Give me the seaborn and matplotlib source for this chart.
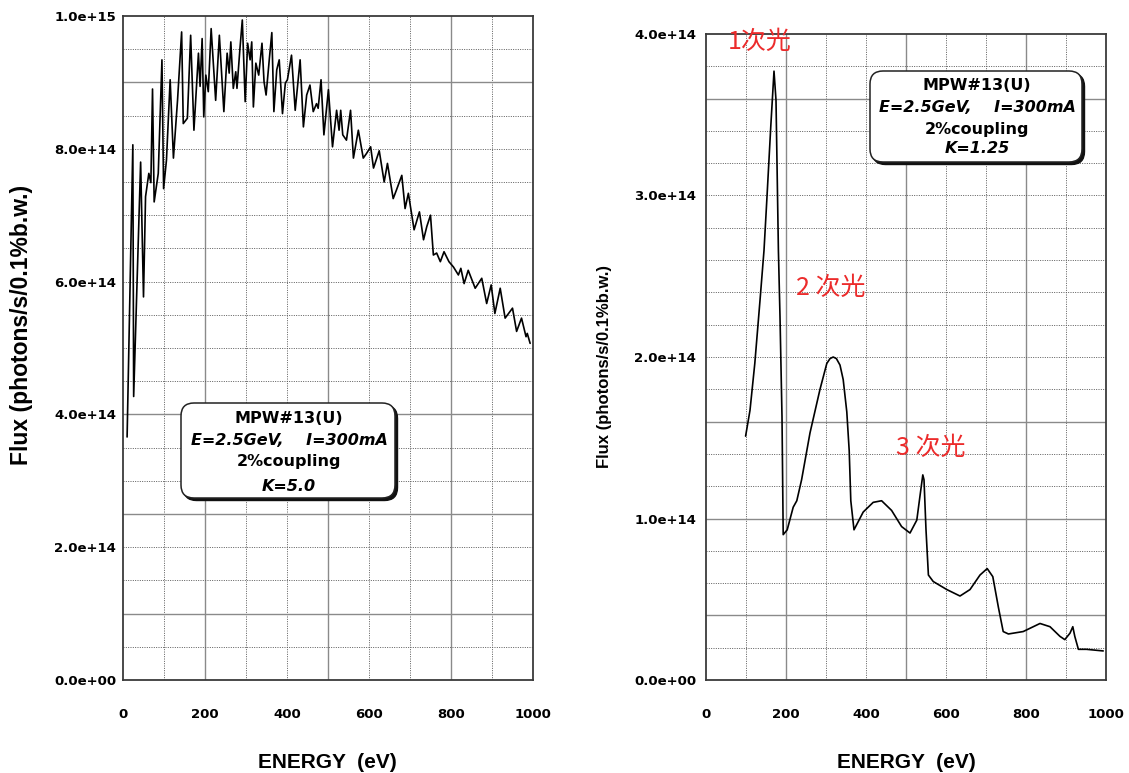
import numpy as np
import pandas as pd
import seaborn as sns
import matplotlib
matplotlib.use("Agg")
import matplotlib.pyplot as plt
from matplotlib import font_manager as fm
from matplotlib.patches import FancyBboxPatch
from matplotlib.transforms import IdentityTransform

# ---------------- data (flux in units of 1e14 photons/s/0.1%b.w.) ----------------
left_energy = [10, 24, 26, 43, 50, 55, 63, 68, 72, 76, 86, 95, 99, 106, 115, 123, 133, 143,
               147, 157, 165, 173, 184, 188, 193, 197, 202, 208, 215, 226, 235, 246, 254, 259,
               263, 269, 275, 278, 285, 291, 298, 304, 310, 314, 318, 324, 331, 339, 344, 349,
               357, 363, 368, 375, 381, 389, 396, 401, 411, 420, 432, 440, 448, 456, 464, 472,
               476, 483, 490, 501, 511, 521, 527, 531, 536, 545, 555, 562, 574, 586, 594, 604,
               611, 625, 637, 645, 659, 667, 680, 688, 696, 710, 723, 733, 741, 750, 757, 765,
               774, 783, 795, 806, 818, 824, 832, 842, 859, 875, 887, 898, 907, 920, 932, 950,
               960, 972, 983, 986, 993]
left_flux = [3.66, 8.06, 4.27, 7.80, 5.77, 7.28, 7.63, 7.49, 8.90, 7.20, 7.63, 9.34, 7.40, 7.83,
             9.04, 7.86, 8.73, 9.76, 8.38, 8.46, 9.71, 8.28, 9.44, 8.94, 9.66, 8.48, 9.11, 8.86,
             9.81, 8.73, 9.71, 8.56, 9.44, 9.14, 9.61, 8.91, 9.16, 8.91, 9.49, 9.94, 8.71, 9.59,
             9.34, 9.61, 8.63, 9.29, 9.11, 9.59, 9.01, 8.81, 9.36, 9.75, 8.56, 9.19, 9.34, 8.53,
             8.99, 9.04, 9.41, 8.58, 9.34, 8.33, 8.81, 8.96, 8.56, 8.68, 8.61, 9.04, 8.21, 8.89,
             8.03, 8.58, 8.28, 8.58, 8.21, 8.13, 8.58, 7.86, 8.28, 7.86, 7.93, 8.03, 7.71, 7.97,
             7.50, 7.78, 7.25, 7.38, 7.60, 7.10, 7.33, 6.78, 7.05, 6.63, 6.83, 7.00, 6.40, 6.43,
             6.30, 6.45, 6.30, 6.22, 6.10, 6.20, 5.97, 6.17, 5.90, 6.05, 5.67, 5.95, 5.52, 5.90,
             5.45, 5.60, 5.25, 5.45, 5.17, 5.22, 5.07]

right_energy = [99, 110, 122, 135, 145, 152, 162, 170, 175, 181, 185, 190, 193, 203, 218, 227,
                239, 260, 285, 302, 310, 318, 326, 335, 343, 352, 358, 362, 370, 393, 418, 439,
                464, 489, 510, 527, 535, 542, 545, 550, 556, 568, 602, 635, 660, 685, 703, 717,
                731, 743, 756, 793, 835, 860, 885, 897, 910, 917, 922, 931, 951, 993]
right_flux = [1.51, 1.67, 1.96, 2.35, 2.66, 2.97, 3.43, 3.77, 3.59, 2.66, 2.25, 1.63, 0.90, 0.93,
              1.07, 1.11, 1.24, 1.53, 1.80, 1.96, 1.99, 2.00, 1.99, 1.95, 1.86, 1.66, 1.42, 1.11,
              0.93, 1.04, 1.10, 1.11, 1.05, 0.95, 0.91, 0.99, 1.14, 1.27, 1.24, 0.93, 0.65, 0.61,
              0.56, 0.52, 0.56, 0.65, 0.69, 0.64, 0.45, 0.30, 0.285, 0.30, 0.35, 0.33, 0.27, 0.25,
              0.29, 0.33, 0.27, 0.19, 0.19, 0.18]

x_ticks = [0, 200, 400, 600, 800, 1000]
left_yticks = [0, 2e14, 4e14, 6e14, 8e14, 1e15]
right_yticks = [0, 1e14, 2e14, 3e14, 4e14]

box_lines_left = ["MPW#13(U)", "E=2.5GeV,    I=300mA", "2%coupling", "K=5.0"]
box_lines_right = ["MPW#13(U)", "E=2.5GeV,    I=300mA", "2%coupling", "K=1.25"]
order_labels = ["1次光", "2 次光", "3 次光"]
x_label = "ENERGY  (eV)"
y_label = "Flux (photons/s/0.1%b.w.)"

# ---------------- style ----------------
sns.set_style("white")
plt.rcParams["font.family"] = ["DejaVu Sans"]
plt.rcParams["text.color"] = "black"
plt.rcParams["xtick.color"] = "black"
plt.rcParams["ytick.color"] = "black"
plt.rcParams["axes.labelcolor"] = "black"
avail = {f.name for f in fm.fontManager.ttflist}
narrow = "Liberation Sans Narrow" if "Liberation Sans Narrow" in avail else "Liberation Sans"

W, H = 1129, 773
fig = plt.figure(figsize=(W / 100, H / 100), dpi=100)
fig.patch.set_facecolor("white")

ax_l = fig.add_axes([123 / W, 1 - 680 / H, 410 / W, 664 / H])
ax_r = fig.add_axes([706 / W, 1 - 680 / H, 400 / W, 646 / H])

df_l = pd.DataFrame({"energy": left_energy, "flux": np.array(left_flux) * 1e14})
df_r = pd.DataFrame({"energy": right_energy, "flux": np.array(right_flux) * 1e14})


def paper_grid(ax, ystep):
    dotted = dict(color="#5a5a5a", lw=0.7, ls=(0, (1.0, 1.4)), zorder=0)
    solid = dict(color="#8a8a8a", lw=1.0, zorder=0)
    for i in range(1, 10):
        ax.axvline(i * 100, **(solid if i in (2, 5, 8) else dotted))
    for i in range(1, 20):
        ax.axhline(i * ystep, **(solid if i in (2, 5, 8, 18) else dotted))


for ax, df, yt, ymax, ystep, ypad in [(ax_l, df_l, left_yticks, 1e15, 5e13, 5),
                                       (ax_r, df_r, right_yticks, 4e14, 2e13, 7)]:
    paper_grid(ax, ystep)
    sns.lineplot(data=df, x="energy", y="flux", ax=ax, color="black", lw=1.2,
                 sort=False, estimator=None, zorder=3)
    ax.set_xlim(0, 1000)
    ax.set_ylim(0, ymax)
    ax.set_xticks(x_ticks)
    ax.set_xticklabels([str(t) for t in x_ticks], fontweight="bold", fontsize=9.5)
    ax.set_yticks(yt)
    ax.set_yticklabels([f"{v:.1e}" for v in yt], fontweight="bold", fontsize=9.5)
    ax.tick_params(axis="x", length=0, pad=20, colors="black")
    ax.tick_params(axis="y", length=0, pad=ypad, colors="black")
    ax.set_xlabel("")
    ax.set_ylabel("")
    for s in ax.spines.values():
        s.set_color("#3a3a3a")
        s.set_linewidth(1.3)
        s.set_visible(True)

# axis titles
fig.text(327 / W, 1 - 762 / H, x_label, ha="center", va="center",
         fontsize=15, fontweight="bold", family="Liberation Sans", color="black")
fig.text(906 / W, 1 - 762 / H, x_label, ha="center", va="center",
         fontsize=15, fontweight="bold", family="Liberation Sans", color="black")
fig.text(22 / W, 1 - 325 / H, y_label, ha="center", va="center", rotation=90,
         fontsize=16.5, fontweight="bold", family=narrow, color="black")
fig.text(604 / W, 1 - 367 / H, y_label, ha="center", va="center", rotation=90,
         fontsize=12, fontweight="bold", family=narrow, color="black")


# info boxes (pixel coordinates, image y measured from top)
def info_box(x0, y0, x1, y1, cx, baselines, lines):
    ident = IdentityTransform()
    w, h = x1 - x0, y1 - y0
    shadow = FancyBboxPatch((x0 + 2.5, H - y1 - 2.5), w, h,
                            boxstyle="round,pad=0,rounding_size=13",
                            transform=ident, facecolor="#111111", edgecolor="#111111",
                            lw=1.0, zorder=5)
    box = FancyBboxPatch((x0, H - y1), w, h,
                         boxstyle="round,pad=0,rounding_size=13",
                         transform=ident, facecolor="white", edgecolor="#222222",
                         lw=1.1, zorder=6)
    fig.add_artist(shadow)
    fig.add_artist(box)
    styles = ["normal", "italic", "normal", "italic"]
    for line, yb, st in zip(lines, baselines, styles):
        fig.text(cx / W, 1 - yb / H, line, ha="center", va="baseline",
                 fontsize=11.5, fontweight="bold", fontstyle=st, color="black", zorder=7)


info_box(181, 403, 395, 498, 289, [423, 445, 466, 491], box_lines_left)
info_box(870, 71, 1082, 162, 977, [90, 112, 134, 153], box_lines_right)

# red order annotations
red = "#ec2b2b"
cjk = ["Noto Sans CJK SC", "DejaVu Sans"]
for (cx, cy), lab in zip([(760, 42), (831, 288), (931, 448)], order_labels):
    fig.text(cx / W, 1 - cy / H, lab, ha="center", va="center", fontsize=18,
             color=red, family=cjk, zorder=8)

fig.savefig("out.png", dpi=100, facecolor="white")
